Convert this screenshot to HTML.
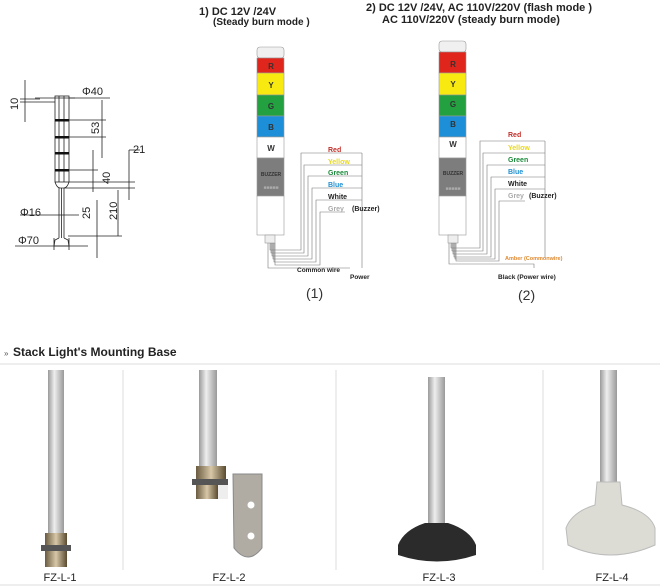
<!DOCTYPE html>
<html><head><meta charset="utf-8"><style>
body{margin:0;background:#fff;width:660px;height:586px;overflow:hidden;font-family:"Liberation Sans",sans-serif}
svg{position:absolute;left:0;top:0}
</style></head><body>
<svg width="660" height="586" viewBox="0 0 660 586" font-family="Liberation Sans, sans-serif">
<!-- titles -->
<g font-weight="bold" font-size="11" fill="#222">
<text x="199" y="15">1)  DC 12V /24V</text>
<text x="213" y="25" font-size="10">(Steady burn mode )</text>
<text x="366" y="11">2)  DC 12V /24V, AC 110V/220V  (flash mode )</text>
<text x="382" y="23">AC 110V/220V   (steady burn mode)</text>
</g>
<!-- dimension drawing -->
<g stroke="#222" stroke-width="0.8" fill="none">
<rect x="55" y="96" width="14" height="86"/>
<line x1="59" y1="96" x2="59" y2="182"/><line x1="64" y1="96" x2="64" y2="182"/>
<path d="M55 182 Q57 188 60 188 L64 188 Q67 188 69 182"/>
<line x1="59" y1="188" x2="59" y2="238"/><line x1="64" y1="188" x2="64" y2="238"/><line x1="61.5" y1="188" x2="61.5" y2="238"/>
<path d="M59 238 L55 240 L54 246 L69 246 L68 240 L64 238"/>
<line x1="25" y1="80" x2="25" y2="122"/><line x1="20" y1="99" x2="40" y2="99"/><line x1="20" y1="102" x2="55" y2="102"/>
<line x1="35" y1="98" x2="75" y2="98"/><line x1="69" y1="98" x2="110" y2="98"/>
<line x1="69" y1="120" x2="106" y2="120"/><line x1="69" y1="137" x2="106" y2="137"/>
<line x1="102" y1="100" x2="102" y2="158"/>
<line x1="69" y1="170" x2="98" y2="170"/><line x1="93" y1="150" x2="93" y2="192"/>
<line x1="69" y1="182" x2="135" y2="182"/><line x1="64" y1="188" x2="135" y2="188"/>
<line x1="129" y1="150" x2="129" y2="200"/><line x1="129" y1="150" x2="140" y2="150"/>
<line x1="118" y1="190" x2="118" y2="236"/><line x1="97" y1="200" x2="97" y2="258"/>
<line x1="20" y1="215" x2="79" y2="215"/>
<line x1="68" y1="236" x2="122" y2="236"/><line x1="15" y1="246" x2="88" y2="246"/>
<line x1="54" y1="238" x2="54" y2="250"/><line x1="69" y1="238" x2="69" y2="250"/>
</g>
<g fill="#111"><rect x="55" y="119" width="14" height="2.5"/><rect x="55" y="136" width="14" height="2.5"/><rect x="55" y="152" width="14" height="2.5"/><rect x="55" y="169" width="14" height="2.5"/></g>
<g font-size="11" fill="#222">
<text x="82" y="95">Φ40</text><text x="20" y="216">Φ16</text><text x="18" y="244">Φ70</text>
<text x="133" y="153">21</text>
<text transform="translate(18,110) rotate(-90)">10</text>
<text transform="translate(99,134) rotate(-90)">53</text>
<text transform="translate(110,184) rotate(-90)">40</text>
<text transform="translate(90,219) rotate(-90)">25</text>
<text transform="translate(117,220) rotate(-90)">210</text>
</g>
<!-- tower 1 -->
<g stroke="#999" stroke-width="0.6">
<rect x="257" y="47" width="27" height="11" rx="3" fill="#f0f0f0"/>
<rect x="257" y="58" width="27" height="15" fill="#e0261c"/>
<rect x="257" y="73" width="27" height="22" fill="#f8ea10"/>
<rect x="257" y="95" width="27" height="21" fill="#23a040"/>
<rect x="257" y="116" width="27" height="21" fill="#1c8fd8"/>
<rect x="257" y="137" width="27" height="21" fill="#fff"/>
<rect x="257" y="158" width="27" height="38" fill="#7d7d7d"/>
<rect x="257" y="196" width="27" height="39" fill="#fff"/>
<rect x="265" y="235" width="10" height="8" fill="#eee"/>
</g>
<g font-size="8" font-weight="bold" text-anchor="middle" fill="#333">
<text x="271" y="69">R</text><text x="271" y="88">Y</text><text x="271" y="109">G</text><text x="271" y="130">B</text><text x="271" y="151">W</text>
<text x="271" y="176" font-size="5">BUZZER</text><text x="271" y="189" font-size="5" fill="#aaa">■■■■■</text>
</g>
<g stroke="#777" stroke-width="0.6" fill="none">
<path d="M268 243 L268 268 L350 268"/>
<path d="M270 243 L270 250 L301 250 L301 153 L362 153"/>
<path d="M271 243 L271 253 L304 253 L304 165 L362 165"/>
<path d="M272 243 L272 256 L308 256 L308 176 L362 176"/>
<path d="M273 243 L273 259 L312 259 L312 188 L362 188"/>
<path d="M274 243 L274 262 L316 262 L316 200 L362 200"/>
<path d="M275 243 L275 265 L320 265 L320 212 L345 212"/>
<path d="M362 153 L362 268"/>
</g>
<g font-size="7" font-weight="bold">
<text x="328" y="152" fill="#c0302a">Red</text><text x="328" y="164" fill="#e8d820">Yellow</text>
<text x="328" y="175" fill="#1a8a3a">Green</text><text x="328" y="187" fill="#1e8fd0">Blue</text>
<text x="328" y="199" fill="#222">White</text><text x="328" y="211" fill="#aaa">Grey</text><text x="352" y="211" fill="#222">(Buzzer)</text>
<text x="297" y="272" fill="#222" font-size="6.5">Common wire</text><text x="350" y="279" fill="#222" font-size="6.5">Power</text>
</g>
<text x="306" y="298" font-size="14" fill="#333">(1)</text>
<!-- tower 2 -->
<g stroke="#999" stroke-width="0.6">
<rect x="439" y="41" width="27" height="11" rx="3" fill="#f0f0f0"/>
<rect x="439" y="52" width="27" height="21" fill="#e0261c"/>
<rect x="439" y="73" width="27" height="22" fill="#f8ea10"/>
<rect x="439" y="95" width="27" height="21" fill="#23a040"/>
<rect x="439" y="116" width="27" height="21" fill="#1c8fd8"/>
<rect x="439" y="137" width="27" height="21" fill="#fff"/>
<rect x="439" y="158" width="27" height="38" fill="#7d7d7d"/>
<rect x="439" y="196" width="27" height="39" fill="#fff"/>
<rect x="448" y="235" width="10" height="8" fill="#eee"/>
</g>
<g font-size="8" font-weight="bold" text-anchor="middle" fill="#333">
<text x="453" y="67">R</text><text x="453" y="87">Y</text><text x="453" y="107">G</text><text x="453" y="127">B</text><text x="453" y="147">W</text>
<text x="453" y="175" font-size="5">BUZZER</text><text x="453" y="190" font-size="5" fill="#aaa">■■■■■</text>
</g>
<g stroke="#777" stroke-width="0.6" fill="none">
<path d="M449 243 L449 264 L534 264 L534 268"/>
<path d="M451 243 L451 248 L480 248 L480 141 L545 141"/>
<path d="M452 243 L452 251 L483 251 L483 153 L545 153"/>
<path d="M453 243 L453 254 L487 254 L487 165 L545 165"/>
<path d="M454 243 L454 257 L491 257 L491 177 L545 177"/>
<path d="M455 243 L455 259 L495 259 L495 189 L545 189"/>
<path d="M456 243 L456 261 L499 261 L499 201 L525 201"/>
<path d="M545 141 L545 258"/>
</g>
<g font-size="7" font-weight="bold">
<text x="508" y="137" fill="#c0302a">Red</text><text x="508" y="150" fill="#e8d820">Yellow</text>
<text x="508" y="162" fill="#1a8a3a">Green</text><text x="508" y="174" fill="#1e8fd0">Blue</text>
<text x="508" y="186" fill="#222">White</text><text x="508" y="198" fill="#aaa">Grey</text><text x="529" y="198" fill="#222">(Buzzer)</text>
<text x="505" y="260" fill="#e08a30" font-size="5.5">Amber (Commonwire)</text>
<text x="498" y="279" fill="#222" font-size="6.5">Black (Power wire)</text>
</g>
<text x="518" y="300" font-size="14" fill="#333">(2)</text>
<!-- bottom section -->
<text x="4" y="356" font-size="8" fill="#555">»</text>
<text x="13" y="356" font-size="12" font-weight="bold" fill="#222">Stack Light's Mounting Base</text>
<line x1="0" y1="364" x2="660" y2="364" stroke="#ddd"/>
<line x1="0" y1="585" x2="660" y2="585" stroke="#ddd"/>
<g stroke="#ddd"><line x1="123" y1="370" x2="123" y2="570"/><line x1="336" y1="370" x2="336" y2="570"/><line x1="543" y1="370" x2="543" y2="570"/></g>
<defs><linearGradient id="pg" x1="0" x2="1"><stop offset="0" stop-color="#9a9a9a"/><stop offset="0.4" stop-color="#eee"/><stop offset="1" stop-color="#999"/></linearGradient>
<linearGradient id="ng" x1="0" x2="1"><stop offset="0" stop-color="#6a5a40"/><stop offset="0.5" stop-color="#d8c8a8"/><stop offset="1" stop-color="#5a4a30"/></linearGradient></defs>
<rect x="48" y="370" width="16" height="168" fill="url(#pg)"/>
<rect x="45" y="533" width="22" height="12" fill="url(#ng)"/><rect x="41" y="545" width="30" height="6" fill="#555"/><rect x="45" y="551" width="22" height="16" fill="url(#ng)"/>
<rect x="199" y="370" width="18" height="100" fill="url(#pg)"/>
<path d="M233 474 L262 474 L262 548 Q248 566 234 548 Z" fill="#b0aca4" stroke="#888"/>
<circle cx="251" cy="505" r="3.5" fill="#fff"/><circle cx="251" cy="536" r="3.5" fill="#fff"/>
<rect x="196" y="466" width="30" height="13" fill="url(#ng)"/><rect x="192" y="479" width="36" height="6" fill="#555"/><rect x="196" y="485" width="22" height="14" fill="url(#ng)"/><rect x="218" y="485" width="10" height="14" fill="#eee"/>
<rect x="428" y="377" width="17" height="150" fill="url(#pg)"/>
<path d="M425 523 L448 523 Q470 530 476 545 L476 555 Q437 568 398 555 L398 545 Q404 530 425 523Z" fill="#2b2b2b"/>
<rect x="600" y="370" width="17" height="115" fill="url(#pg)"/>
<path d="M597 482 L620 482 L622 505 Q650 512 655 528 L655 545 Q610 565 568 545 L566 528 Q572 512 595 505Z" fill="#dcdcd4" stroke="#bbb"/>
<g font-size="11" fill="#222" text-anchor="middle"><text x="60" y="581">FZ-L-1</text><text x="229" y="581">FZ-L-2</text><text x="439" y="581">FZ-L-3</text><text x="612" y="581">FZ-L-4</text></g>
</svg>
</body></html>
